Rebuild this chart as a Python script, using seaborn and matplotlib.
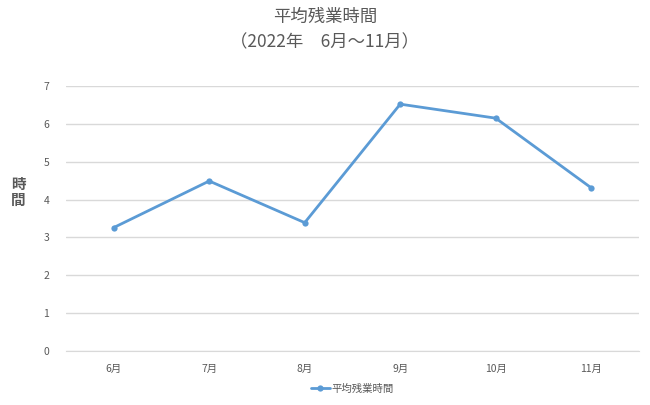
import matplotlib
matplotlib.use('Agg')
import matplotlib.pyplot as plt
import seaborn as sns
import pandas as pd

# データ
months = ["6月", "7月", "8月", "9月", "10月", "11月"]
hours = [3.26, 4.49, 3.39, 6.52, 6.15, 4.31]
series_name = "平均残業時間"

df = pd.DataFrame({"month": months, "hours": hours})

sns.set_style("white")
plt.rcParams['font.family'] = ['Noto Sans CJK JP', 'DejaVu Sans']

fig = plt.figure(figsize=(6.5, 4.05), dpi=100)
ax = fig.add_axes([0.1015, 0.1333, 0.8815, 0.6544])

line_color = "#5B9BD5"
sns.lineplot(data=df, x="month", y="hours", ax=ax, color=line_color,
             linewidth=2, marker="o", markersize=4.5, markeredgewidth=0,
             label=series_name, sort=False)

ax.set_xlim(-0.5, len(months) - 0.5)
ax.set_ylim(0, 7)
ax.set_yticks(range(0, 8))
ax.grid(axis="y", color="#D9D9D9", linewidth=1)
ax.set_axisbelow(True)
for s in ["top", "right", "left"]:
    ax.spines[s].set_visible(False)
ax.spines["bottom"].set_color("#D9D9D9")
ax.tick_params(axis="both", length=0, labelsize=7.5, labelcolor="#595959")
ax.tick_params(axis="x", pad=9)
ax.tick_params(axis="y", pad=12)
ax.set_xlabel("")
ax.set_ylabel("")

# 縦書きのy軸ラベル
fig.text(18 / 650, 1 - 192 / 405, "時\n間", ha="center", va="center",
         fontsize=10.5, color="#595959", fontweight="bold", linespacing=1.0)

fig.text(0.5, 1 - 17 / 405, "平均残業時間", ha="center", va="center",
         fontsize=12.5, color="#595959")
fig.text(0.5, 1 - 42 / 405, "（2022年　6月～11月）", ha="center", va="center",
         fontsize=12.5, color="#595959")

ax.legend(loc="center", bbox_to_anchor=(0.5, -0.143), frameon=False,
          fontsize=7.5, labelcolor="#595959", handlelength=1.8, handletextpad=0.2)

fig.savefig("out.png", dpi=100)
